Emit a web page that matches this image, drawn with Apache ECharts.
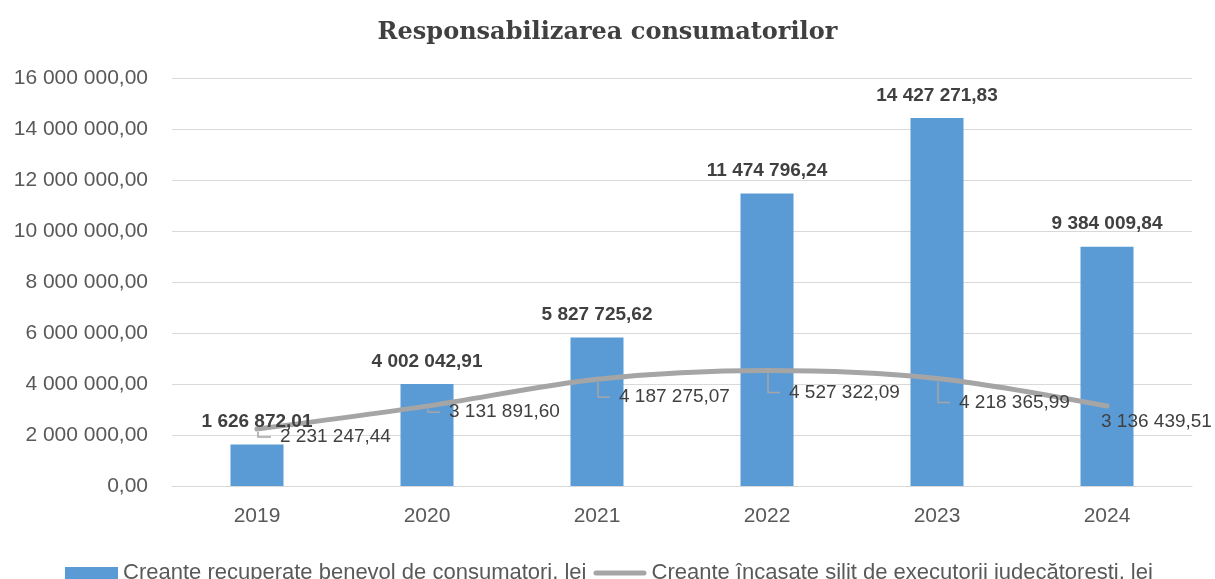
<!DOCTYPE html>
<html>
<head>
<meta charset="utf-8">
<script src="https://cdn.jsdelivr.net/npm/echarts@6/dist/echarts.min.js"></script>
<style>
html,body{margin:0;padding:0;background:#fff;}
#chart{width:1215px;height:579px;}
</style>
</head>
<body>
<div id="chart"></div>
<script>
// ---- data ----
const years = ['2019', '2020', '2021', '2022', '2023', '2024'];
const voluntaryRecovered = [1626872.01, 4002042.91, 5827725.62, 11474796.24, 14427271.83, 9384009.84];
const enforcedCollected = [2231247.44, 3131891.60, 4187275.07, 4527322.09, 4218365.99, 3136439.51];
const seriesNames = ['Creanțe recuperate benevol de consumatori, lei', 'Creanțe încasate silit de executorii judecătorești, lei'];
const yMin = 0, yMax = 16000000, yStep = 2000000;

// label placement (style, relative to each point): [dx, dy, showLeader]
const lineLabelOffsets = [[23, 8, true], [22, 6, true], [22, 18, true], [22, 22, true], [22, 24, true], [-6, 16, false]];

function fmt(v) {
  const s = Math.abs(v).toFixed(2).split('.');
  const intPart = s[0].replace(/\B(?=(\d{3})+(?!\d))/g, ' ');
  return (v < 0 ? '-' : '') + intPart + ',' + s[1];
}

const FONT = '"Liberation Sans", Arial, sans-serif';
const chart = echarts.init(document.getElementById('chart'));

chart.setOption({
  animation: false,
  backgroundColor: '#fff',
  title: {
    text: 'Responsabilizarea consumatorilor',
    left: 'center',
    top: 16,
    textStyle: { fontFamily: '"DejaVu Serif", serif', fontWeight: 'bold', fontSize: 24, color: '#404040' }
  },
  grid: { left: 172, right: 23, top: 78, bottom: 93 },
  legend: {
    data: [
      { name: seriesNames[0], icon: 'rect' },
      { name: seriesNames[1], icon: 'path://M2.5,0 L50.5,0 A2.5,2.5 0 0 1 50.5,5 L2.5,5 A2.5,2.5 0 0 1 2.5,0 Z', itemStyle: { color: '#A5A5A5' } }
    ],
    left: 60,
    top: 557,
    itemWidth: 53,
    itemHeight: 12,
    itemGap: 7,
    textStyle: { fontFamily: FONT, fontSize: 22, color: '#595959' }
  },
  xAxis: {
    type: 'category',
    data: years,
    axisTick: { show: false },
    axisLine: { lineStyle: { color: '#D9D9D9', width: 1 } },
    axisLabel: { fontFamily: FONT, fontSize: 21, color: '#595959', margin: 20 }
  },
  yAxis: {
    type: 'value',
    min: yMin, max: yMax, interval: yStep,
    axisLine: { show: false },
    axisTick: { show: false },
    splitLine: { lineStyle: { color: '#D9D9D9', width: 1 } },
    axisLabel: { fontFamily: FONT, fontSize: 21, color: '#595959', margin: 24, formatter: v => fmt(v) }
  },
  series: [
    {
      name: seriesNames[0],
      type: 'bar',
      data: voluntaryRecovered,
      barWidth: 53,
      z: 2,
      itemStyle: { color: '#5B9BD5' }
    },
    {
      name: seriesNames[1],
      type: 'line',
      data: enforcedCollected,
      smooth: 0.3,
      symbol: 'none',
      z: 3,
      lineStyle: { color: '#A5A5A5', width: 5, cap: 'round' },
      itemStyle: { color: '#A5A5A5' }
    },
    {
      name: 'barLabels',
      type: 'bar',
      data: voluntaryRecovered,
      barWidth: 53,
      barGap: '-100%',
      z: 5,
      silent: true,
      itemStyle: { color: 'rgba(0,0,0,0)' },
      label: {
        show: true, position: 'top', distance: 13,
        fontFamily: FONT, fontSize: 19, fontWeight: 'bold', color: '#404040',
        formatter: p => fmt(p.value)
      }
    },
    {
      name: 'lineLabels',
      type: 'custom',
      z: 4,
      silent: true,
      data: enforcedCollected.map((v, i) => [i, v]),
      encode: { x: 0, y: 1 },
      renderItem: function (params, api) {
        const p = api.coord([api.value(0), api.value(1)]);
        const o = lineLabelOffsets[params.dataIndex];
        const children = [];
        if (o[2]) {
          children.push({
            type: 'polyline',
            shape: { points: [[p[0] + 1, p[1] + 3], [p[0] + 1, p[1] + o[1]], [p[0] + o[0] - 9, p[1] + o[1]]] },
            style: { stroke: '#A5A5A5', lineWidth: 1.5, fill: null }
          });
        }
        children.push({
          type: 'text',
          style: {
            x: p[0] + o[0], y: p[1] + o[1],
            text: fmt(api.value(1)),
            fontFamily: FONT, fontSize: 19, fill: '#404040',
            textAlign: 'left', textVerticalAlign: 'middle'
          }
        });
        return { type: 'group', children: children };
      }
    }
  ]
});
</script>
</body>
</html>
